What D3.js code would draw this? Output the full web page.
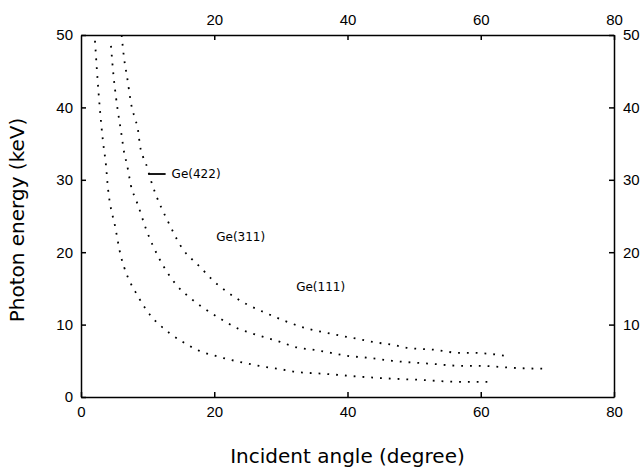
<!DOCTYPE html>
<html>
<head>
<meta charset="utf-8">
<script src="https://cdn.jsdelivr.net/npm/d3@7"></script>
<style>
  body { margin: 0; background: #fff; }
  svg { font-family: "DejaVu Sans", sans-serif; }
  .axis path, .axis line { stroke: #000; stroke-width: 1.5px; }
  .axis text { font-size: 15px; fill: #000; }
</style>
</head>
<body>
<svg id="chart" width="642" height="472"></svg>
<script>
// values (angle in degree, energy in keV)
var seriesNames = ["Ge(422)", "Ge(311)", "Ge(111)"];

var angle422 = [6.1, 6.45, 6.9, 7.65, 8.1, 8.55, 8.86, 9.3, 9.76, 10.5, 13.4, 15.3, 16.2, 17.0, 20.4, 21.8, 24.9, 27.5, 34.2, 37.5, 39.9, 41.4, 43.8, 46.8, 48.9, 53.3, 56.7, 58.7, 63.6];
var energy422 = [50, 46.9, 44.3, 39.9, 38.5, 36.9, 34.7, 33.2, 32.2, 29.9, 23.6, 20.4, 19.4, 18.75, 15.6, 14.6, 12.8, 11.7, 9.4, 8.75, 8.3, 8.05, 7.6, 7.2, 6.8, 6.5, 6.1, 6.1, 5.7];

var angle311 = [4.5, 4.9, 5.25, 6.1, 6.45, 6.9, 7.65, 8.1, 8.55, 9.76, 11.7, 14.4, 16.5, 18.2, 20.6, 23.7, 25.8, 29.9, 32.6, 35.0, 37.5, 39.9, 43.2, 46.7, 52.4, 57.3, 59.7, 65.4, 69.6];
var energy311 = [48.5, 44.2, 41.4, 36.1, 33.9, 32.1, 28.6, 27.6, 26.5, 23.2, 19.2, 15.4, 13.6, 12.4, 11.0, 9.4, 8.75, 7.6, 6.8, 6.5, 6.1, 5.7, 5.4, 5.0, 4.6, 4.3, 4.3, 4.0, 3.9];

var angle111 = [2.1, 2.4, 2.85, 3.3, 3.75, 4.05, 4.5, 4.95, 6.0, 6.45, 8.55, 9.76, 13.4, 15.3, 17.7, 20.1, 25.1, 27.3, 29.6, 32.0, 36.6, 41.9, 47.4, 50.1, 56.9, 61.4];
var energy111 = [49.2, 45, 39.6, 35.3, 32, 28.8, 26, 24.3, 19.4, 18, 13.9, 12.1, 8.75, 7.6, 6.4, 5.7, 4.6, 4.2, 3.9, 3.5, 3.2, 2.8, 2.5, 2.4, 2.1, 2.1];

// where each curve label sits (angle, energy)
var labelAngle = [13.6, 20.3, 32.3];
var labelEnergy = [30.8, 22.1, 15.2];

var xTicks = [0, 20, 40, 60, 80];
var yTicks = [0, 10, 20, 30, 40, 50];

var svg = d3.select("#chart");
var margin = { left: 81, top: 35, right: 28, bottom: 75 };
var width = 642 - margin.left - margin.right,
    height = 472 - margin.top - margin.bottom;

var g = svg.append("g")
    .attr("transform", "translate(" + margin.left + "," + margin.top + ")");

var x = d3.scaleLinear().domain([0, 80]).range([0, width]);
var y = d3.scaleLinear().domain([0, 50]).range([height, 0]);

// axes, ticks pointing inward on all four sides
g.append("g").attr("class", "axis")
  .attr("transform", "translate(0," + height + ")")
  .call(d3.axisBottom(x).tickValues(xTicks).tickSizeInner(-5).tickSizeOuter(0).tickPadding(9));

g.append("g").attr("class", "axis")
  .call(d3.axisTop(x).tickValues(xTicks.slice(1)).tickSizeInner(-5).tickSizeOuter(0).tickPadding(10));

g.append("g").attr("class", "axis")
  .call(d3.axisLeft(y).tickValues(yTicks).tickSizeInner(-5).tickSizeOuter(0).tickPadding(8));

g.append("g").attr("class", "axis")
  .attr("transform", "translate(" + width + ",0)")
  .call(d3.axisRight(y).tickValues(yTicks.slice(1)).tickSizeInner(-5).tickSizeOuter(0).tickPadding(9));

var line = d3.line()
    .x(function(d) { return x(d[0]); })
    .y(function(d) { return y(d[1]); })
    .curve(d3.curveMonotoneX);

var curves = [
  d3.zip(angle422, energy422),
  d3.zip(angle311, energy311),
  d3.zip(angle111, energy111)
];

g.selectAll("path.curve")
  .data(curves)
  .enter().append("path")
  .attr("class", "curve")
  .attr("d", line)
  .style("fill", "none")
  .style("stroke", "#000")
  .style("stroke-width", 1.8)
  .style("stroke-dasharray", "1.8 7");

// leader line from the top curve to its label
g.append("line")
  .attr("x1", x(10.1)).attr("x2", x(12.7))
  .attr("y1", y(labelEnergy[0])).attr("y2", y(labelEnergy[0]))
  .style("stroke", "#000").style("stroke-width", 1.8);

g.selectAll("text.label")
  .data(seriesNames)
  .enter().append("text")
  .attr("class", "label")
  .attr("x", function(d, i) { return x(labelAngle[i]); })
  .attr("y", function(d, i) { return y(labelEnergy[i]) + 4; })
  .style("font-size", "12px")
  .text(function(d) { return d; });

// axis titles
svg.append("text")
  .attr("x", margin.left + width / 2)
  .attr("y", 463)
  .attr("text-anchor", "middle")
  .style("font-size", "20px")
  .text("Incident angle (degree)");

svg.append("text")
  .attr("transform", "translate(24," + (margin.top + height / 2 + 4) + ") rotate(-90)")
  .attr("text-anchor", "middle")
  .style("font-size", "20px")
  .text("Photon energy (keV)");
</script>
</body>
</html>
